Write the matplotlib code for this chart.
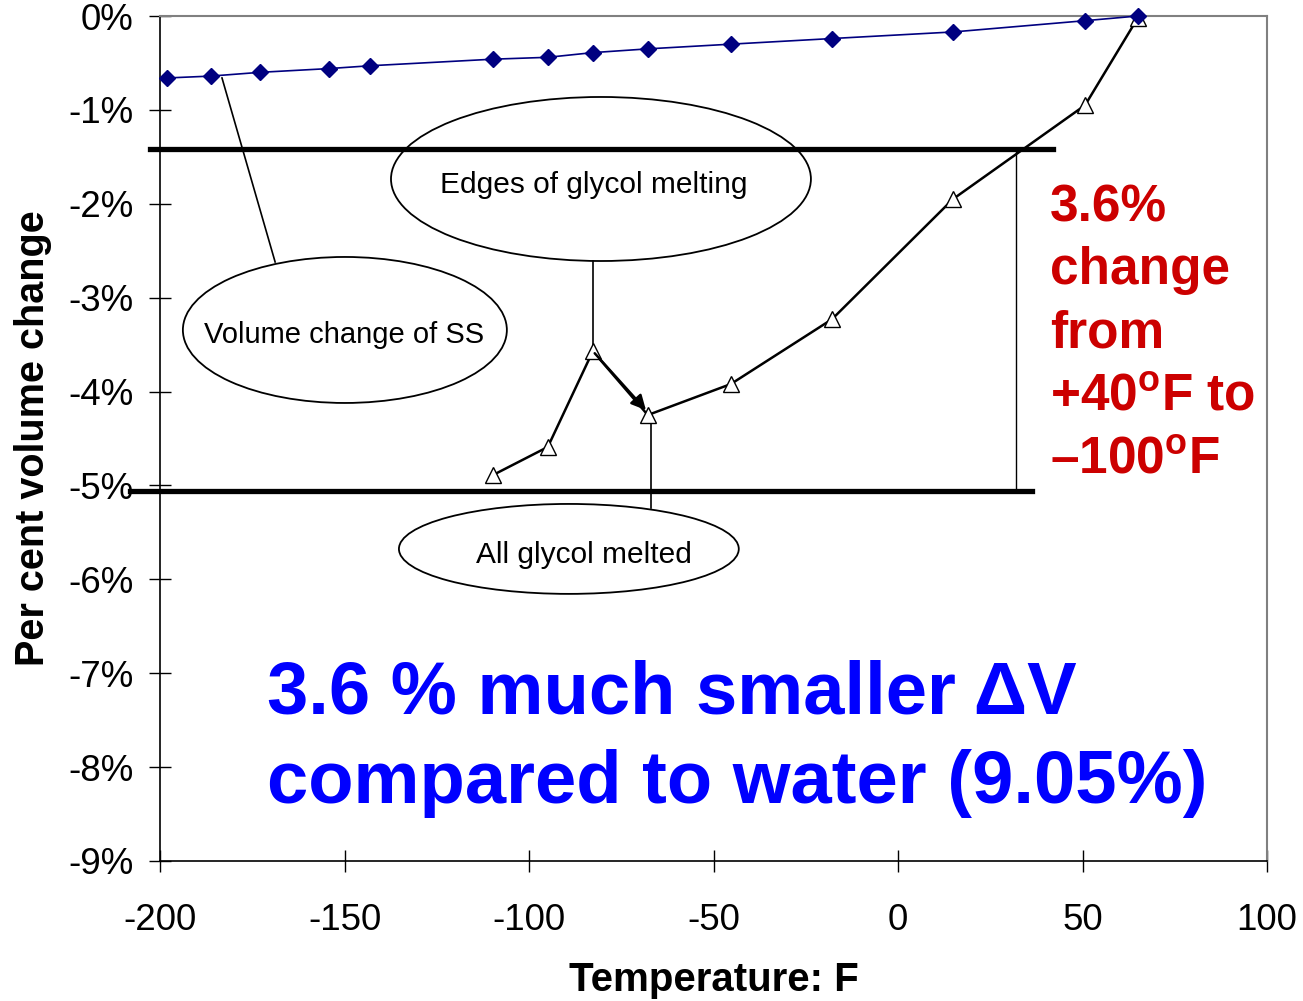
import numpy as np
import matplotlib
matplotlib.use("Agg")
import matplotlib.pyplot as plt
from matplotlib.patches import Ellipse

plt.rcParams['font.family'] = ['Liberation Sans', 'DejaVu Sans']
plt.rcParams['mathtext.fontset'] = 'custom'
plt.rcParams['mathtext.bf'] = 'Liberation Sans:bold'
plt.rcParams['mathtext.rm'] = 'Liberation Sans'

# volume change of stainless steel
temp_ss = [-198.1, -186.2, -172.9, -154.2, -143.1, -109.8, -94.9, -82.7,
           -67.8, -45.3, -17.9, 14.9, 50.7, 65.0]
dv_ss = [-0.66, -0.64, -0.60, -0.56, -0.53, -0.46, -0.44, -0.39,
         -0.35, -0.30, -0.24, -0.17, -0.05, 0.0]

# glycol
temp_gl = [-109.8, -94.9, -82.7, -67.8, -45.3, -17.9, 14.9, 50.7, 65.0]
dv_gl = [-4.89, -4.59, -3.57, -4.25, -3.92, -3.23, -1.95, -0.95, -0.02]

xticks = [-200, -150, -100, -50, 0, 50, 100]
yticks = [0, -1, -2, -3, -4, -5, -6, -7, -8, -9]

fig = plt.figure(figsize=(13.03, 10.01), dpi=100)
ax = fig.add_axes([160/1303, 1-861/1001, 1107/1303, 845/1001])

ax.plot(temp_ss, dv_ss, color='#000080', lw=1.2, marker='D', ms=8,
        mfc='#000080', mec='#000080', clip_on=False, zorder=5)
ax.plot(temp_gl, dv_gl, color='black', lw=1.8, marker='^', ms=11,
        mfc='white', mec='black', mew=1.0, clip_on=False, zorder=4)

ax.set_xlim(-200, 100)
ax.set_ylim(-9, 0)
ax.set_xticks(xticks)
ax.set_yticks(yticks)
ax.set_xticklabels([str(v) for v in xticks], fontsize=26.5)
ax.set_yticklabels(['%d%%' % v for v in yticks], fontsize=26.5)
ax.tick_params(axis='both', direction='inout', length=16, width=1, color='black')
ax.tick_params(axis='x', pad=22)
ax.tick_params(axis='y', pad=11)
for s in ['top', 'right']:
    ax.spines[s].set_color('#808080')
    ax.spines[s].set_linewidth(1.5)
for s in ['left', 'bottom']:
    ax.spines[s].set_color('black')
    ax.spines[s].set_linewidth(1.2)

ax.set_xlabel('Temperature: F', fontsize=29, fontweight='bold', labelpad=17)
ax.set_ylabel('Per cent volume change', fontsize=28.5, fontweight='bold', labelpad=12)

# melting band limits
ax.plot([-202.7, 42.0], [-1.42, -1.42], color='black', lw=3.8, clip_on=False, zorder=3)
ax.plot([-208.1, 36.3], [-5.06, -5.06], color='black', lw=3.8, clip_on=False, zorder=3)
ax.plot([32.0, 32.0], [-1.42, -5.06], color='black', lw=1.0, zorder=3)

# callout ellipses
ax.add_patch(Ellipse((-80.5, -1.736), 113.8, 1.747, fc='white', ec='black', lw=1.3, zorder=2))
ax.add_patch(Ellipse((-149.9, -3.344), 87.8, 1.555, fc='white', ec='black', lw=1.3, zorder=2))
ax.add_patch(Ellipse((-89.2, -5.676), 92.1, 0.958, fc='white', ec='black', lw=1.3, zorder=2))
ax.text(-82.5, -1.80, 'Edges of glycol melting', fontsize=21.5, ha='center', va='center', zorder=6)
ax.text(-150.0, -3.40, 'Volume change of SS', fontsize=21, ha='center', va='center', zorder=6)
ax.text(-85.0, -5.74, 'All glycol melted', fontsize=21.5, ha='center', va='center', zorder=6)

# connectors
ax.plot([-183.2, -168.8], [-0.66, -2.62], color='black', lw=1.2, zorder=3)
ax.plot([-82.7, -82.7], [-2.61, -3.57], color='black', lw=1.2, zorder=3)
ax.plot([-66.9, -66.9], [-4.30, -5.24], color='black', lw=1.2, zorder=3)
ax.annotate('', xy=(-67.8, -4.22), xytext=(-82.7, -3.57),
            arrowprops=dict(arrowstyle='-|>', color='black', lw=1.8,
                            mutation_scale=22), zorder=6)

# headline texts
fig.text(1050/1303, 1-183/1001,
         '3.6%\nchange\nfrom\n+40$^{\\mathbf{o}}$F to\n\u2013100$^{\\mathbf{o}}$F',
         color='#CC0000', fontsize=37, fontweight='bold', ha='left', va='top',
         linespacing=1.37)
fig.text(267/1303, 1-659/1001,
         '3.6 % much smaller \u0394V\ncompared to water (9.05%)',
         color='#0000FF', fontsize=53.5, fontweight='bold', ha='left', va='top',
         linespacing=1.39)

fig.savefig('out.png', dpi=100)
